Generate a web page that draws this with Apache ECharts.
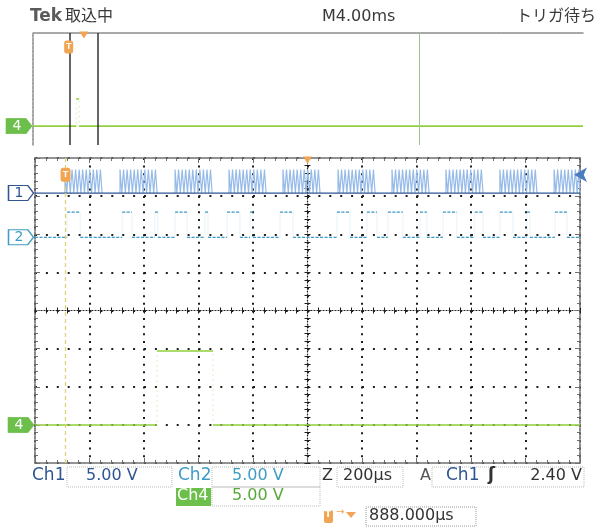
<!DOCTYPE html>
<html>
<head>
<meta charset="utf-8">
<script src="https://cdn.jsdelivr.net/npm/echarts@6/dist/echarts.min.js"></script>
<style>
  html, body { margin: 0; padding: 0; background: #fff; }
  #scope { width: 604px; height: 532px; }
</style>
</head>
<body>
<div id="scope"></div>
<script>
// ---- acquisition settings ----
const voltsPerDiv = 5.0;
const ch1Offset = 3.08;      // ground position, divisions above centre
const ch2Offset = 1.92;
const ch4Offset = -3.0;
const triggerTime = -888;    // µs, relative to screen centre
const triggerLevel = 2.40;   // V on Ch1

// ---- Ch1: carrier bursts (µs, relative to screen centre) ----
const ch1BurstStart = [-890, -688, -486, -288, -90, 112, 310, 508, 706, 905];
const ch1BurstEnd   = [-754, -552, -350, -152,  46, 248, 446, 644, 842, 1000];
const ch1HighVolts = 3.1;
const ch1CarrierPeriod = 13; // µs

// ---- Ch2: pulses (µs) ----
const ch2PulseStart = [-882, -680, -560, -486, -376, -295, -211, -101, 108, 218, 295, 413, 497, 614, 706, 805, 908];
const ch2PulseEnd   = [-834, -644, -549, -442, -365, -248, -200,  -53, 156, 255, 350, 438, 548, 644, 754, 816, 952];
const ch2HighVolts = 3.3;

// ---- Ch4: single pulse (µs) ----
const ch4Rise = -552;
const ch4Fall = -347;
const ch4HighVolts = 9.7;

// ---- overview record (ms relative to record centre) ----
const ovWindowCentre = -16.3;   // ms, centre of the zoomed window
const ovWindowWidth = 2.0;      // ms (10 div x 200 µs)
const ovMarkerTime = 8.1;       // ms
const ovCh4Offset = -2.65;

const COL = {
  ch1: '#2f5592', ch1burst: '#97bbe8', ch2: '#3f9cc4', ch4: '#93d041',
  ch4box: '#6dbf4b', orange: '#f1a452', grid: '#1e1e1e', frame: '#6e6e6e',
  trig: '#dcd27a'
};

const div = (offset, v) => offset + v / voltsPerDiv;

// step waveform from a list of [start, end] high intervals
function stepTrace(x0, x1, starts, ends, offset, high) {
  const pts = [[x0, div(offset, 0)]];
  for (let i = 0; i < starts.length; i++) {
    pts.push([starts[i], div(offset, 0)], [starts[i], div(offset, high)],
             [ends[i], div(offset, high)], [ends[i], div(offset, 0)]);
  }
  pts.push([x1, div(offset, 0)]);
  return pts;
}
// keep only the horizontal runs of a step trace (edges are left out)
function levelsOnly(pts) {
  const out = [];
  for (let i = 0; i + 1 < pts.length; i++) {
    if (pts[i][1] === pts[i + 1][1]) {
      out.push(pts[i], pts[i + 1], [pts[i + 1][0], '-']);
    }
  }
  return out;
}
// carrier pulses inside each burst
function burstTrace() {
  const pts = [];
  for (let b = 0; b < ch1BurstStart.length; b++) {
    let t = ch1BurstStart[b];
    const e = ch1BurstEnd[b];
    pts.push([t, div(ch1Offset, 0)]);
    while (t < e) {
      const tm = Math.min(t + ch1CarrierPeriod / 2, e);
      pts.push([t, div(ch1Offset, ch1HighVolts)], [tm, div(ch1Offset, ch1HighVolts)], [tm, div(ch1Offset, 0)]);
      t = Math.min(tm + ch1CarrierPeriod / 2, e);
      pts.push([t, div(ch1Offset, 0)]);
    }
    pts.push([e, '-']);
  }
  return pts;
}

const ch2Trace = stepTrace(-1000, 1000, ch2PulseStart, ch2PulseEnd, ch2Offset, ch2HighVolts);
const ch4Trace = stepTrace(-1000, 1000, [ch4Rise], [ch4Fall], ch4Offset, ch4HighVolts);
const ovRise = ovWindowCentre + ch4Rise / 1000, ovFall = ovWindowCentre + ch4Fall / 1000;
const ovCh4Trace = stepTrace(-20, 20, [ovRise], [ovFall], ovCh4Offset, ch4HighVolts);

const hDots = [2, 8.9];
const vDots = [2, 5.62];

const mainX = (extra) => Object.assign({
  type: 'value', gridIndex: 1, min: -1000, max: 1000, interval: 200,
  axisLabel: { show: false }, splitLine: { show: false },
  axisLine: { onZero: false, lineStyle: { color: COL.frame, width: 1.6, type: [3, 1] } },
  axisTick: { inside: true, length: 5, lineStyle: { color: COL.frame } },
  minorTick: { show: true, splitNumber: 5, length: 3, lineStyle: { color: COL.frame } }
}, extra);
const mainY = (extra) => Object.assign({
  type: 'value', gridIndex: 1, min: -4, max: 4, interval: 1,
  axisLabel: { show: false }, splitLine: { show: false },
  axisLine: { onZero: false, lineStyle: { color: COL.frame, width: 1.6, type: [3, 1] } },
  axisTick: { inside: true, length: 5, lineStyle: { color: COL.frame } },
  minorTick: { show: true, splitNumber: 5, length: 3, lineStyle: { color: COL.frame } }
}, extra);

const chanMarker = (label, fill, stroke, textColor) => ({
  symbol: 'path://M0,0 L20,0 L26,7 L20,14 L0,14 Z',
  symbolSize: [25, 15],
  symbolOffset: [-14, 0],
  itemStyle: { color: fill, borderColor: stroke, borderWidth: 1.2 },
  label: { show: true, position: 'inside', offset: [-2, 0], formatter: label, color: textColor,
           fontFamily: 'DejaVu Sans', fontSize: 14 }
});

const option = {
  animation: false,
  backgroundColor: '#ffffff',
  grid: [
    { left: 33, top: 33, width: 550, height: 112 },
    { left: 35, top: 158, width: 545, height: 305 }
  ],
  xAxis: [
    { type: 'value', gridIndex: 0, min: -20, max: 20, interval: 4, position: 'top',
      axisLabel: { show: false }, splitLine: { show: false }, axisTick: { show: false },
      axisLine: { onZero: false, lineStyle: { color: '#8a8a8a', width: 1.5, type: [3, 1] } } },
    mainX({ position: 'bottom',
      splitLine: { show: true, lineStyle: { color: COL.grid, width: 2, type: vDots } } }),
    mainX({ position: 'top' }),
    mainX({ position: 'bottom', axisLine: { onZero: true, onZeroAxisIndex: 1, lineStyle: { color: COL.grid, width: 1.2, type: [1, 2] } },
      axisTick: { inside: true, length: 3, lineStyle: { color: COL.grid } },
      minorTick: { show: true, splitNumber: 5, length: 3, lineStyle: { color: COL.grid } } }),
    mainX({ position: 'bottom', axisLine: { onZero: true, onZeroAxisIndex: 1, show: false },
      axisTick: { inside: false, length: 3, lineStyle: { color: COL.grid } },
      minorTick: { show: true, splitNumber: 5, length: 3, lineStyle: { color: COL.grid } } })
  ],
  yAxis: [
    { type: 'value', gridIndex: 0, min: -4, max: 4, interval: 1,
      axisLabel: { show: false }, splitLine: { show: false }, axisTick: { show: false },
      axisLine: { onZero: false, lineStyle: { color: '#8a8a8a', width: 1.5, type: [3, 1] } } },
    mainY({ position: 'left',
      splitLine: { show: true, lineStyle: { color: COL.grid, width: 2, type: hDots } } }),
    mainY({ position: 'right' }),
    mainY({ position: 'left', axisLine: { onZero: true, onZeroAxisIndex: 1, lineStyle: { color: COL.grid, width: 1.2, type: [1, 2] } },
      axisTick: { inside: true, length: 3, lineStyle: { color: COL.grid } },
      minorTick: { show: true, splitNumber: 5, length: 3, lineStyle: { color: COL.grid } } }),
    mainY({ position: 'left', axisLine: { onZero: true, onZeroAxisIndex: 1, show: false },
      axisTick: { inside: false, length: 3, lineStyle: { color: COL.grid } },
      minorTick: { show: true, splitNumber: 5, length: 3, lineStyle: { color: COL.grid } } })
  ],
  series: [
    // overview record, Ch4
    { type: 'line', xAxisIndex: 0, yAxisIndex: 0, data: ovCh4Trace, showSymbol: false,
      lineStyle: { color: COL.ch4, width: 1, opacity: 0.35, type: [2, 3] }, silent: true,
      markLine: { symbol: 'none', silent: true, label: { show: false },
        data: [
          { xAxis: ovMarkerTime, lineStyle: { color: '#a3c48c', width: 1, type: 'solid' } },
          { xAxis: ovWindowCentre - ovWindowWidth / 2, lineStyle: { color: '#333', width: 1.5, type: 'solid' } },
          { xAxis: ovWindowCentre + ovWindowWidth / 2, lineStyle: { color: '#333', width: 1.5, type: 'solid' } }
        ] },
      markPoint: { silent: true, data: [
          { coord: [ovWindowCentre + triggerTime / 1000, 3.0], symbol: 'roundRect', symbolSize: [9, 13], symbolOffset: [-3, 0],
            itemStyle: { color: COL.orange }, label: { show: true, formatter: 'T', color: '#fff', fontSize: 9, fontWeight: 'bold' } },
          { coord: [ovWindowCentre, 4], symbol: 'triangle', symbolRotate: 180, symbolSize: [9, 7], symbolOffset: [0, 2],
            itemStyle: { color: COL.orange }, label: { show: false } },
          Object.assign({ coord: [-20, ovCh4Offset] }, chanMarker('4', COL.ch4box, COL.ch4box, '#fff'))
        ] } },
    { type: 'line', xAxisIndex: 0, yAxisIndex: 0, data: levelsOnly(ovCh4Trace), showSymbol: false, silent: true,
      lineStyle: { color: COL.ch4, width: 1.6 } },

    // main window, Ch1 carrier bursts
    { type: 'line', xAxisIndex: 1, yAxisIndex: 1, data: burstTrace(), showSymbol: false, silent: true,
      lineStyle: { color: COL.ch1burst, width: 1.2 } },
    // Ch1 ground level
    { type: 'line', xAxisIndex: 1, yAxisIndex: 1, showSymbol: false, silent: true,
      data: [[-1000, div(ch1Offset, 0)], [1000, div(ch1Offset, 0)]],
      lineStyle: { color: COL.ch1, width: 1.4 },
      markLine: { symbol: 'none', silent: true, label: { show: false },
        data: [{ xAxis: triggerTime, lineStyle: { color: COL.trig, width: 1.3, type: [4, 3] } }] },
      markPoint: { silent: true, data: [
          Object.assign({ coord: [-1000, ch1Offset] }, chanMarker('1', '#fff', COL.ch1, COL.ch1)),
          { coord: [triggerTime, div(ch1Offset, triggerLevel)], symbol: 'roundRect', symbolSize: [10, 14],
            itemStyle: { color: COL.orange }, label: { show: true, formatter: 'T', color: '#fff', fontSize: 9, fontWeight: 'bold' } },
          { coord: [0, 4], symbol: 'triangle', symbolRotate: 180, symbolSize: [9, 7], symbolOffset: [0, 2],
            itemStyle: { color: COL.orange }, label: { show: false } },
          { coord: [1000, div(ch1Offset, triggerLevel)], symbol: 'arrow', symbolRotate: 90, symbolSize: [11, 13], symbolOffset: [-6, 0],
            itemStyle: { color: '#4b7cc0' }, label: { show: false } }
        ] } },

    // Ch2: faint edges, solid levels
    { type: 'line', xAxisIndex: 1, yAxisIndex: 1, data: ch2Trace, showSymbol: false, silent: true,
      lineStyle: { color: COL.ch2, width: 1, opacity: 0.12 } },
    { type: 'line', xAxisIndex: 1, yAxisIndex: 1, data: levelsOnly(ch2Trace), showSymbol: false, silent: true,
      lineStyle: { color: COL.ch2, width: 1.2, type: [3, 1.5] },
      markPoint: { silent: true, data: [
          Object.assign({ coord: [-1000, ch2Offset] }, chanMarker('2', '#fff', COL.ch2, COL.ch2))
        ] } },

    // Ch4: faint edges, solid levels
    { type: 'line', xAxisIndex: 1, yAxisIndex: 1, data: ch4Trace, showSymbol: false, silent: true,
      lineStyle: { color: COL.ch4, width: 1, opacity: 0.3, type: [2, 3] } },
    { type: 'line', xAxisIndex: 1, yAxisIndex: 1, data: levelsOnly(ch4Trace), showSymbol: false, silent: true,
      lineStyle: { color: COL.ch4, width: 1.5 },
      markPoint: { silent: true, data: [
          Object.assign({ coord: [-1000, ch4Offset] }, chanMarker('4', COL.ch4box, COL.ch4box, '#fff'))
        ] } }
  ],
  graphic: [
    { type: 'text', left: 30, top: 8, style: { text: 'Tek', font: 'bold 17px "DejaVu Sans"', fill: '#5a5a5a' } },
    { type: 'text', left: 65, top: 7, style: { text: '取込中', font: '16px "Noto Sans CJK JP"', fill: '#3a3a3a' } },
    { type: 'text', left: 322, top: 9, style: { text: 'M4.00ms', font: '16px "DejaVu Sans"', fill: '#3a3a3a' } },
    { type: 'text', right: 8, top: 7, style: { text: 'トリガ待ち', font: '16px "Noto Sans CJK JP"', fill: '#3a3a3a' } },

    // readout boxes
    { type: 'rect', shape: { x: 67, y: 467, width: 105, height: 20 }, style: { fill: 'none', stroke: '#bbb', lineWidth: 1, lineDash: [1, 1] } },
    { type: 'rect', shape: { x: 212, y: 467, width: 108, height: 20 }, style: { fill: 'none', stroke: '#bbb', lineWidth: 1, lineDash: [1, 1] } },
    { type: 'rect', shape: { x: 337, y: 467, width: 66, height: 20 }, style: { fill: 'none', stroke: '#bbb', lineWidth: 1, lineDash: [1, 1] } },
    { type: 'rect', shape: { x: 432, y: 467, width: 152, height: 20 }, style: { fill: 'none', stroke: '#bbb', lineWidth: 1, lineDash: [1, 1] } },
    { type: 'rect', shape: { x: 212, y: 487, width: 108, height: 19 }, style: { fill: 'none', stroke: '#bbb', lineWidth: 1, lineDash: [1, 1] } },
    { type: 'rect', shape: { x: 176, y: 488, width: 35, height: 18 }, style: { fill: COL.ch4box } },
    { type: 'rect', shape: { x: 366, y: 507, width: 110, height: 19 }, style: { fill: 'none', stroke: '#999', lineWidth: 1, lineDash: [1, 1] } },

    { type: 'text', left: 32, top: 467, style: { text: 'Ch1', font: '17px "DejaVu Sans"', fill: COL.ch1 } },
    { type: 'text', left: 86, top: 468, style: { text: '5.00 V', font: '16px "DejaVu Sans"', fill: COL.ch1 } },
    { type: 'text', left: 178, top: 467, style: { text: 'Ch2', font: '17px "DejaVu Sans"', fill: COL.ch2 } },
    { type: 'text', left: 232, top: 468, style: { text: '5.00 V', font: '16px "DejaVu Sans"', fill: COL.ch2 } },
    { type: 'text', left: 322, top: 468, style: { text: 'Z', font: '16px "DejaVu Sans"', fill: '#333' } },
    { type: 'text', left: 343, top: 468, style: { text: '200µs', font: '16px "DejaVu Sans"', fill: '#333' } },
    { type: 'text', left: 420, top: 468, style: { text: 'A', font: '16px "DejaVu Sans"', fill: '#555' } },
    { type: 'text', left: 446, top: 467, style: { text: 'Ch1', font: '17px "DejaVu Sans"', fill: COL.ch1 } },
    { type: 'text', left: 488, top: 467, style: { text: 'ʃ', font: 'bold 17px "DejaVu Sans"', fill: '#333' } },
    { type: 'text', right: 22, top: 468, style: { text: '2.40 V', font: '16px "DejaVu Sans"', fill: '#333' } },

    { type: 'text', left: 177, top: 488, style: { text: 'Ch4', font: '16px "DejaVu Sans"', fill: '#fff' } },
    { type: 'text', left: 232, top: 488, style: { text: '5.00 V', font: '16px "DejaVu Sans"', fill: '#5aa83a' } },

    { type: 'rect', shape: { x: 324, y: 510, width: 9, height: 13, r: 2 }, style: { fill: COL.orange } },
    { type: 'text', left: 325, top: 510, style: { text: 'T', font: 'bold 9px "DejaVu Sans"', fill: '#fff' } },
    { type: 'text', left: 336, top: 507, style: { text: '→', font: '10px "DejaVu Sans"', fill: COL.orange } },
    { type: 'polygon', shape: { points: [[346, 512], [356, 512], [351, 518]] }, style: { fill: COL.orange } },
    { type: 'text', left: 369, top: 508, style: { text: '888.000µs', font: '16px "DejaVu Sans"', fill: '#333' } }
  ]
};

const chart = echarts.init(document.getElementById('scope'), null, { renderer: 'canvas' });
chart.setOption(option);
</script>
</body>
</html>
